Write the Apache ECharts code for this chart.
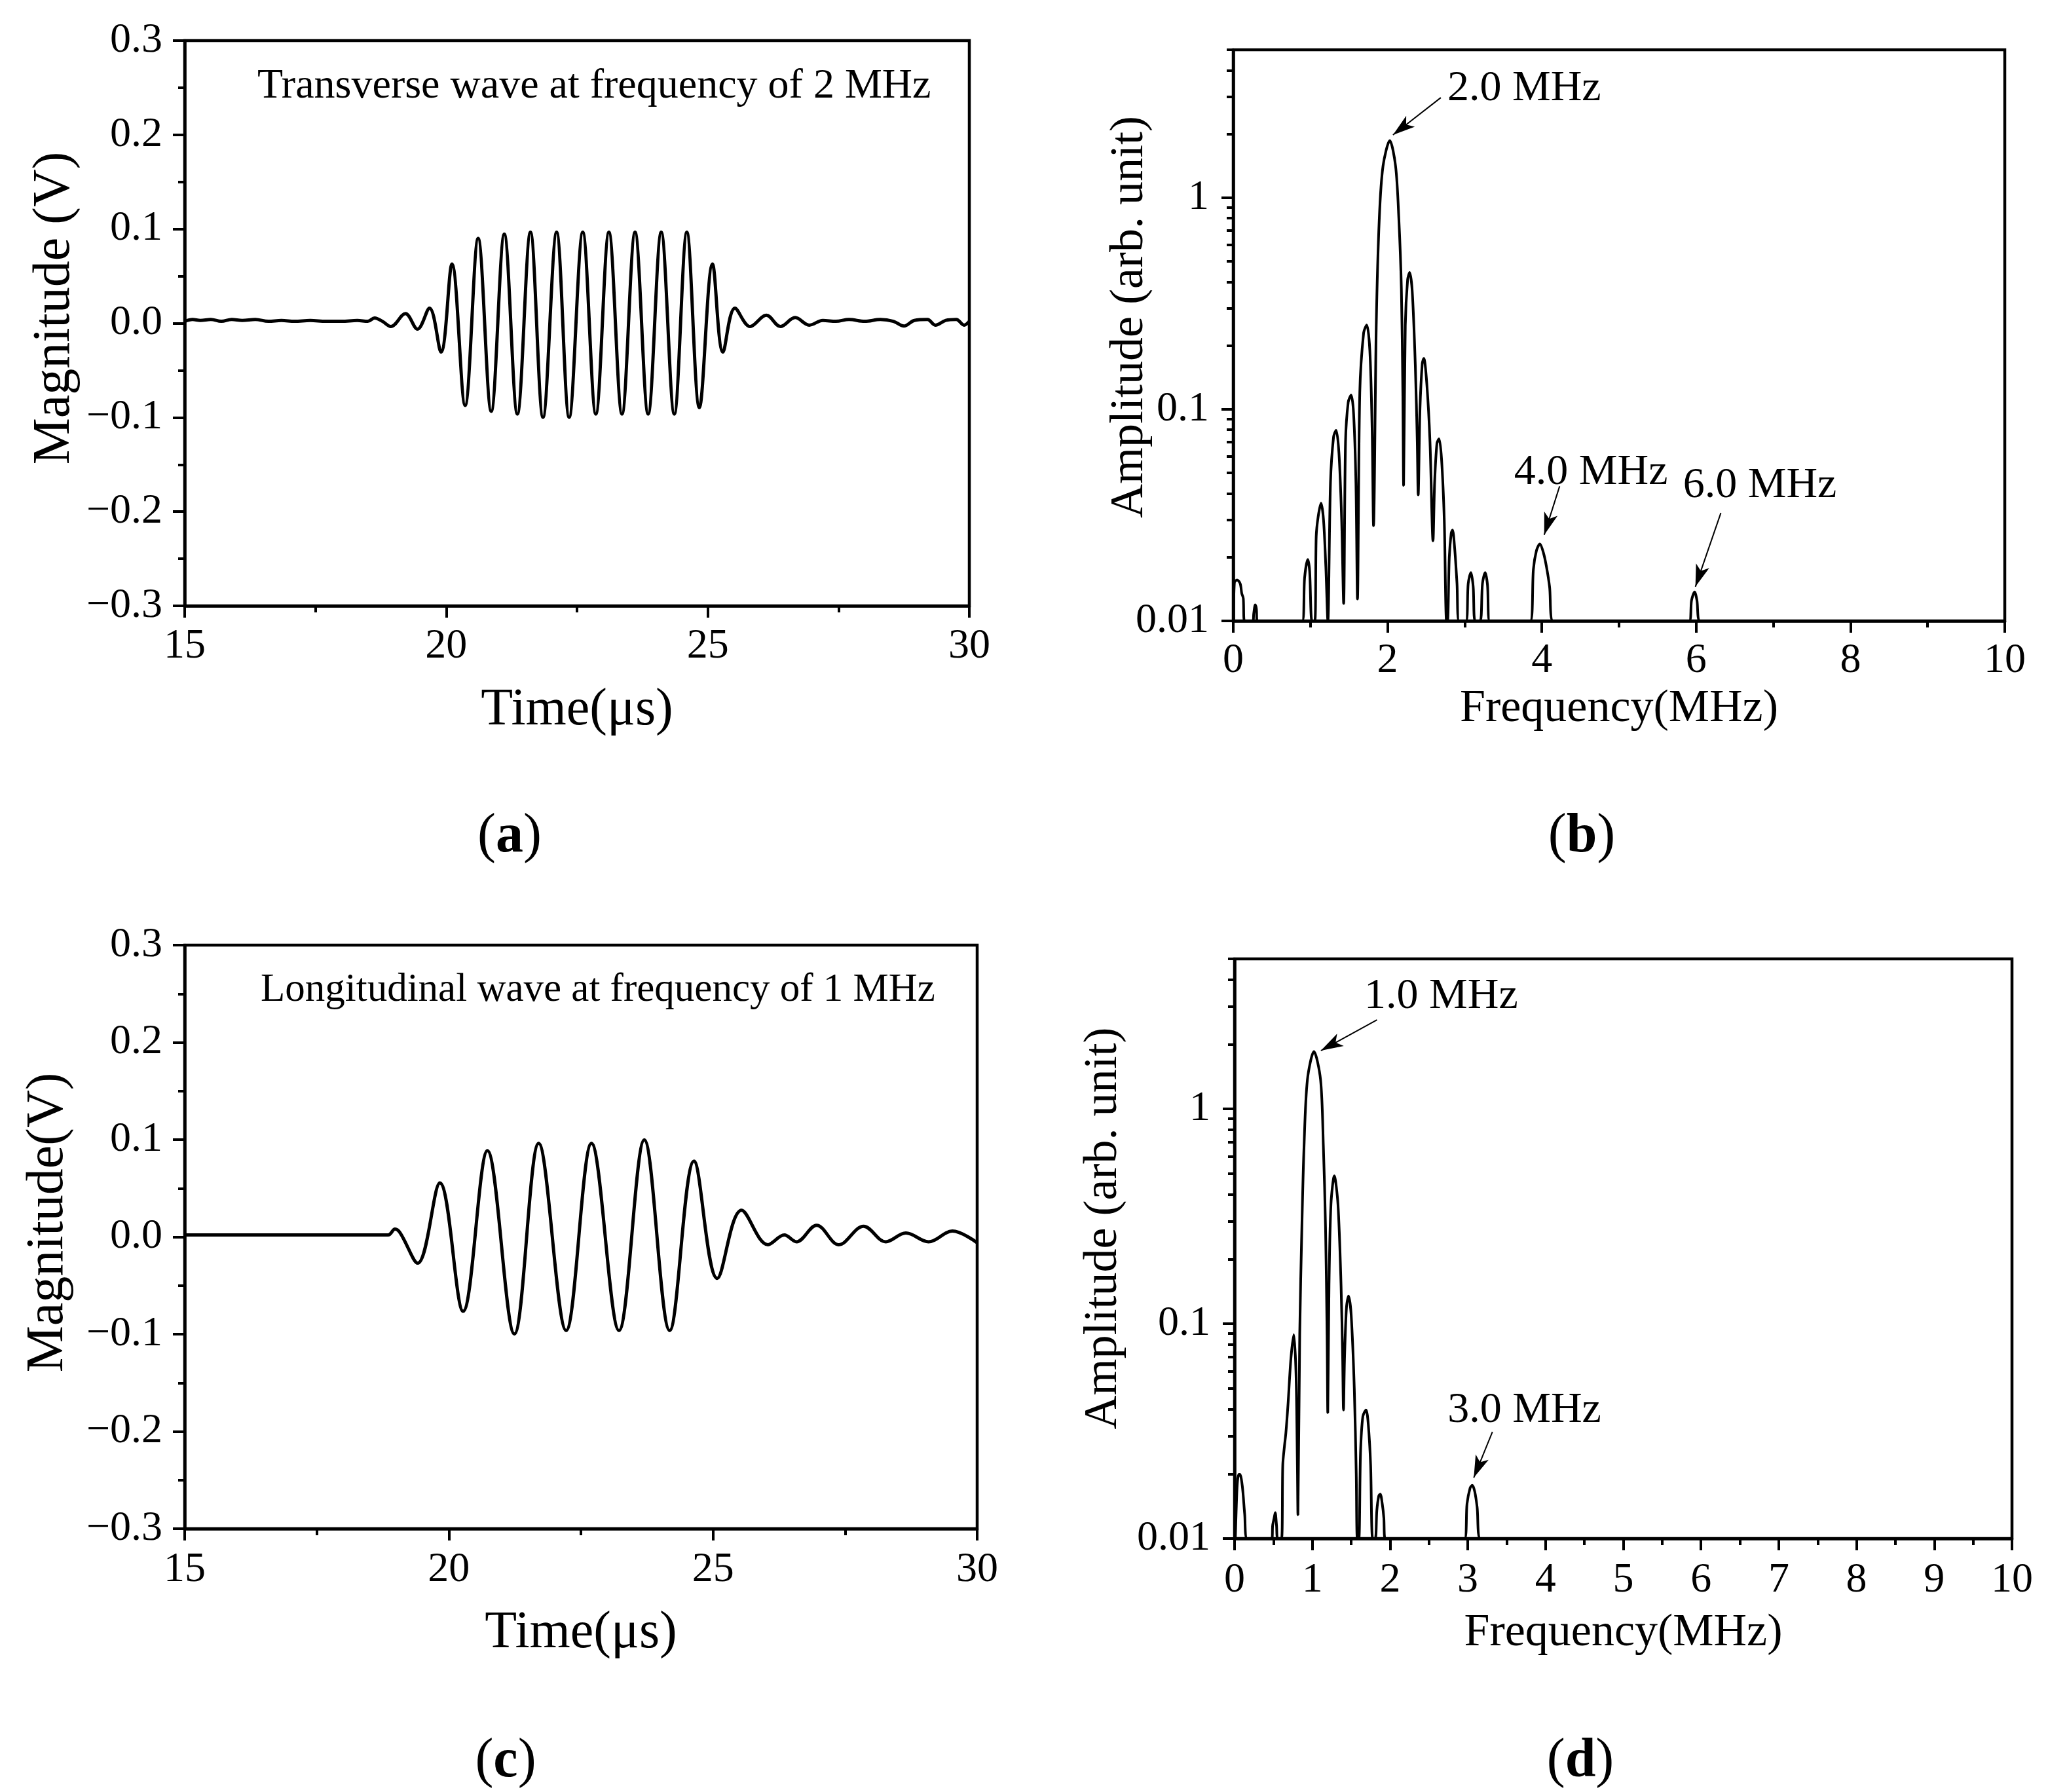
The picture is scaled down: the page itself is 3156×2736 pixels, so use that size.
<!DOCTYPE html>
<html>
<head>
<meta charset="utf-8">
<script src="https://cdn.jsdelivr.net/npm/echarts@6/dist/echarts.min.js"></script>
<style>
html, body { margin: 0; padding: 0; background: #fff; }
#main { width: 3156px; height: 2736px; }
</style>
</head>
<body>
<div id="main"></div>
<script>
// (a) transverse wave, time (us) vs magnitude (V)
const waveA = [
  [15.0, 0.002], [15.15, 0.004], [15.3, 0.003], [15.5, 0.004], [15.7, 0.002], [15.9, 0.004],
  [16.1, 0.003], [16.35, 0.004], [16.6, 0.002], [16.85, 0.003], [17.1, 0.002], [17.4, 0.003],
  [17.7, 0.002], [18.0, 0.002], [18.3, 0.003], [18.5, 0.002], [18.63, 0.0056], [18.78, 0.002],
  [18.94, -0.0035], [19.22, 0.0102], [19.45, -0.0063], [19.68, 0.016], [19.90, -0.0306],
  [20.11, 0.063], [20.36, -0.0873], [20.61, 0.090], [20.86, -0.0935], [21.11, 0.0945],
  [21.36, -0.0964], [21.61, 0.0966], [21.85, -0.0999], [22.11, 0.0966], [22.35, -0.0999],
  [22.61, 0.0966], [22.86, -0.0964], [23.11, 0.0966], [23.36, -0.0964], [23.61, 0.0966],
  [23.86, -0.0964], [24.11, 0.0966], [24.36, -0.0964], [24.60, 0.0966], [24.84, -0.0896],
  [25.09, 0.063], [25.29, -0.0306], [25.52, 0.016], [25.81, -0.0035], [26.12, 0.0085],
  [26.39, -0.0035], [26.67, 0.006], [26.94, -0.002], [27.2, 0.003], [27.45, 0.002], [27.7, 0.004],
  [28.0, 0.002], [28.3, 0.004], [28.55, 0.002], [28.75, -0.003], [28.95, 0.003], [29.2, 0.004],
  [29.35, -0.002], [29.55, 0.003], [29.75, 0.004], [29.9, -0.002], [30.0, 0.002]
]

// (c) longitudinal wave
const waveC = [
  [15.0, 0.002], [16.0, 0.002], [17.0, 0.002], [18.0, 0.002], [18.85, 0.002], [18.98, 0.008],
  [19.08, 0.004], [19.41, -0.027], [19.83, 0.0555], [20.27, -0.0765], [20.73, 0.0887],
  [21.24, -0.0998], [21.70, 0.0963], [22.22, -0.0963], [22.70, 0.0963], [23.22, -0.0963],
  [23.70, 0.0998], [24.18, -0.0963], [24.64, 0.078], [25.08, -0.0426], [25.54, 0.0274],
  [26.04, -0.008], [26.35, 0.002], [26.58, -0.005], [26.96, 0.012], [27.38, -0.008],
  [27.85, 0.011], [28.27, -0.005], [28.65, 0.004], [29.08, -0.005], [29.53, 0.006], [30.0, -0.006]
]

// (b) spectrum of (a), frequency (MHz) vs amplitude
const specB = [
  [0.005, 0.01], [0.015, 0.0152], [0.05, 0.0156], [0.09, 0.0150], [0.11, 0.0135], [0.13, 0.0128], [0.145, 0.01],
  [0.255, 0.01], [0.265, 0.0108], [0.285, 0.0119], [0.30, 0.0114], [0.31, 0.01],
  [0.894, 0.01], [0.925, 0.0160], [0.966, 0.0195], [0.99, 0.0172], [1.02, 0.01],
  [1.057, 0.01], [1.075, 0.025], [1.10, 0.031], [1.138, 0.036], [1.17, 0.030], [1.20, 0.018], [1.226, 0.01],
  [1.26, 0.045], [1.30, 0.074], [1.333, 0.0796], [1.37, 0.062], [1.405, 0.030], [1.431, 0.0121],
  [1.455, 0.07], [1.49, 0.108], [1.528, 0.1167], [1.56, 0.095], [1.59, 0.045], [1.61, 0.0127],
  [1.64, 0.12], [1.69, 0.23], [1.73, 0.25], [1.77, 0.19], [1.80, 0.08], [1.818, 0.0282],
  [1.854, 0.255], [1.893, 0.80], [1.941, 1.41], [2.029, 1.86], [2.104, 1.41], [2.146, 0.80],
  [2.179, 0.372], [2.198, 0.119], [2.208, 0.0437],
  [2.23, 0.25], [2.26, 0.41], [2.286, 0.443], [2.32, 0.36], [2.36, 0.16], [2.385, 0.07], [2.397, 0.0394],
  [2.42, 0.10], [2.45, 0.165], [2.47, 0.174], [2.51, 0.13], [2.55, 0.07], [2.589, 0.0239],
  [2.61, 0.045], [2.64, 0.069], [2.667, 0.0725], [2.70, 0.058], [2.735, 0.03], [2.764, 0.01],
  [2.777, 0.01], [2.80, 0.020], [2.825, 0.026], [2.842, 0.0269], [2.87, 0.022], [2.90, 0.015], [2.927, 0.01],
  [3.015, 0.01], [3.045, 0.0150], [3.08, 0.0169], [3.11, 0.0145], [3.135, 0.01],
  [3.20, 0.01], [3.23, 0.0150], [3.265, 0.0169], [3.295, 0.0148], [3.324, 0.01],
  [3.85, 0.01], [3.89, 0.0175], [3.93, 0.0215], [3.974, 0.0231], [4.02, 0.021], [4.06, 0.018], [4.10, 0.0145], [4.143, 0.01],
  [5.91, 0.01], [5.94, 0.0125], [5.98, 0.0137], [6.01, 0.0125], [6.05, 0.01],
  [10.0, 0.01]
]

// (d) spectrum of (c)
const specD = [
  [0.01, 0.01], [0.02, 0.0132], [0.035, 0.018], [0.055, 0.0199], [0.069, 0.0199], [0.10, 0.0175], [0.13, 0.013], [0.162, 0.01],
  [0.48, 0.01], [0.49, 0.0115], [0.51, 0.0125], [0.523, 0.0132], [0.54, 0.0115], [0.555, 0.01],
  [0.604, 0.01], [0.62, 0.022], [0.641, 0.0268], [0.66, 0.031], [0.689, 0.043], [0.725, 0.069],
  [0.762, 0.089], [0.79, 0.059], [0.808, 0.022], [0.815, 0.0129],
  [0.838, 0.089], [0.866, 0.284], [0.894, 0.675], [0.937, 1.37], [1.021, 1.85], [1.106, 1.37],
  [1.142, 0.675], [1.17, 0.284], [1.19, 0.089], [1.199, 0.0386],
  [1.215, 0.15], [1.24, 0.36], [1.283, 0.488], [1.33, 0.36], [1.37, 0.15], [1.39, 0.07], [1.401, 0.0397],
  [1.415, 0.07], [1.44, 0.12], [1.466, 0.1346], [1.50, 0.11], [1.54, 0.05], [1.565, 0.02], [1.579, 0.01],
  [1.599, 0.01], [1.62, 0.025], [1.65, 0.037], [1.691, 0.0397], [1.72, 0.034], [1.75, 0.022], [1.776, 0.01],
  [1.81, 0.01], [1.83, 0.0135], [1.855, 0.0158], [1.874, 0.0161], [1.90, 0.0145], [1.92, 0.0125], [1.937, 0.01],
  [2.959, 0.01], [2.99, 0.0145], [3.03, 0.0172], [3.058, 0.0177], [3.09, 0.0165], [3.12, 0.0140], [3.162, 0.01],
  [10.0, 0.01]
]

// peak annotations: [text, freq, amp] and arrows [fromF, fromA, toF, toA]
const notesB = [['2.0 MHz', 2.776, 3.27], ['4.0 MHz', 3.64, 0.0501], ['6.0 MHz', 5.83, 0.0434]]
const arrowsB = [[2.69, 2.97, 2.07, 1.98], [4.23, 0.0433, 4.03, 0.0255], [6.32, 0.0324, 5.99, 0.0145]]
const notesD = [['1.0 MHz', 1.669, 3.33], ['3.0 MHz', 2.74, 0.0394]]
const arrowsD = [[1.832, 2.60, 1.111, 1.87], [3.317, 0.0314, 3.077, 0.0192]]

// minor ticks of the log axes (multiples inside each decade)
const logMinor = [0.02, 0.03, 0.04, 0.05, 0.06, 0.07, 0.08, 0.09, 0.2, 0.3, 0.4, 0.5, 0.6, 0.7, 0.8, 0.9, 2, 3, 4, 5]

const FONT = '"Liberation Serif", "Times New Roman", serif'
const BLACK = '#000'

const chart = echarts.init(document.getElementById('main'))

function txt (size, extra) {
  return Object.assign({ fontFamily: FONT, fontSize: size, color: BLACK }, extra || {})
}

// common value axis (bottom or left)
function valAxis (grid, min, max, interval, name, nameSize, nameGap, margin, fmt, pad) {
  return {
    type: 'value',
    gridIndex: grid,
    min: min,
    max: max,
    interval: interval,
    name: name,
    nameLocation: 'middle',
    nameGap: nameGap,
    nameMoveOverlap: false,
    nameTextStyle: txt(nameSize, pad ? { padding: pad } : {}),
    axisLine: { onZero: false, lineStyle: { color: BLACK, width: 4.5 } },
    axisTick: { inside: false, length: 18, lineStyle: { color: BLACK, width: 4 } },
    minorTick: { show: true, splitNumber: 2, length: 10, lineStyle: { color: BLACK, width: 4 } },
    axisLabel: txt(64, { margin: margin, formatter: fmt }),
    splitLine: { show: false },
    minorSplitLine: { show: false }
  }
}

function logAxis (grid, name, nameGap, pad) {
  return {
    type: 'log',
    logBase: 10,
    gridIndex: grid,
    min: 0.01,
    max: 5,
    name: name,
    nameLocation: 'middle',
    nameGap: nameGap,
    nameMoveOverlap: false,
    nameTextStyle: txt(72, { padding: pad }),
    axisLine: { onZero: false, lineStyle: { color: BLACK, width: 4.5 } },
    axisTick: { inside: false, length: 18, lineStyle: { color: BLACK, width: 4 } },
    axisLabel: txt(64, {
      margin: 37,
      showMaxLabel: false,
      formatter: v => String(parseFloat(Number(v).toPrecision(6)))
    }),
    splitLine: { show: false }
  }
}

// overlay axis that only draws the log minor ticks
function logMinorAxis (grid) {
  return {
    type: 'value',
    gridIndex: grid,
    position: 'left',
    min: -2,
    max: Math.log10(5),
    axisLine: { show: false },
    axisLabel: { show: false },
    splitLine: { show: false },
    axisTick: {
      show: true,
      inside: false,
      length: 10,
      customValues: logMinor.map(v => Math.log10(v)),
      lineStyle: { color: BLACK, width: 4 }
    }
  }
}

const fmt1 = v => v.toFixed(1).replace('-', '\u2212')
const fmtInt = v => String(v)

function frame (left, top, width, height) {
  return {
    left: left, top: top, width: width, height: height,
    show: true, borderColor: BLACK, borderWidth: 4.5,
    backgroundColor: 'transparent',
    containLabel: false,
    outerBoundsMode: 'none'
  }
}

function waveSeries (grid, data) {
  return {
    type: 'line',
    xAxisIndex: grid,
    yAxisIndex: grid,
    data: data,
    showSymbol: false,
    smooth: 0.36,
    clip: true,
    silent: true,
    lineStyle: { color: BLACK, width: 5 }
  }
}

function specSeries (grid, yIdx, data, notes, arrows) {
  return {
    type: 'line',
    xAxisIndex: grid,
    yAxisIndex: yIdx,
    data: data,
    showSymbol: false,
    smooth: 0.3,
    clip: true,
    silent: true,
    lineStyle: { color: BLACK, width: 4 },
    markLine: {
      silent: true,
      animation: false,
      symbol: ['none', 'arrow'],
      symbolSize: [16, 34],
      label: { show: false },
      lineStyle: { color: BLACK, width: 2, type: 'solid' },
      data: arrows.map(a => [{ coord: [a[0], a[1]] }, { coord: [a[2], a[3]] }])
    },
    markPoint: {
      silent: true,
      animation: false,
      symbol: 'circle',
      symbolSize: 0,
      label: txt(66, { show: true, position: 'right', distance: 0, formatter: '{b}' }),
      data: notes.map(n => ({ name: n[0], coord: [n[1], n[2]] }))
    }
  }
}

function panelLabel (letter, x, y) {
  return {
    type: 'text',
    x: x,
    y: y,
    style: {
      text: '{n|(}{b|' + letter + '}{n|)}',
      align: 'center',
      verticalAlign: 'middle',
      rich: {
        n: { fontFamily: FONT, fontSize: 84, color: BLACK },
        b: { fontFamily: FONT, fontSize: 84, fontWeight: 'bold', color: BLACK }
      }
    }
  }
}

function note (text, x, y, size) {
  return {
    type: 'text',
    x: x,
    y: y,
    style: {
      text: text,
      font: size + 'px ' + FONT,
      fill: BLACK,
      align: 'left',
      verticalAlign: 'middle'
    }
  }
}

const option = {
  backgroundColor: '#fff',
  animation: false,
  grid: [
    frame(282, 62, 1198, 863),
    frame(1883, 76, 1178, 872),
    frame(282, 1443, 1210, 891),
    frame(1885, 1464, 1187, 885)
  ],
  xAxis: [
    valAxis(0, 15, 30, 5, 'Time(\u03bcs)', 80, 120, 30, fmtInt),
    valAxis(1, 0, 10, 2, 'Frequency(MHz)', 70, 100, 29, fmtInt),
    valAxis(2, 15, 30, 5, 'Time(\u03bcs)', 80, 120, 31, fmtInt),
    valAxis(3, 0, 10, 1, 'Frequency(MHz)', 70, 110, 32, fmtInt)
  ],
  yAxis: [
    valAxis(0, -0.3, 0.3, 0.1, 'Magnitude (V)', 80, 158, 34, fmt1, [0, 0, 0, 46]),
    logAxis(1, 'Amplitude (arb. unit)', 122, [0, 0, 0, 56]),
    valAxis(2, -0.3, 0.3, 0.1, 'Magnitude(V)', 80, 168, 34, fmt1, [0, 0, 0, 44]),
    logAxis(3, 'Amplitude (arb. unit)', 164, [0, 0, 0, 62]),
    logMinorAxis(1),
    logMinorAxis(3)
  ],
  series: [
    waveSeries(0, waveA),
    specSeries(1, 1, specB, notesB, arrowsB),
    waveSeries(2, waveC),
    specSeries(3, 3, specD, notesD, arrowsD)
  ],
  graphic: [
    note('Transverse wave at frequency of 2 MHz', 393, 132, 64),
    note('Longitudinal wave at frequency of 1 MHz', 398, 1512, 61),
    panelLabel('a', 778, 1278),
    panelLabel('b', 2415, 1278),
    panelLabel('c', 772, 2690),
    panelLabel('d', 2413, 2690)
  ]
}

chart.setOption(option)
window.addEventListener('resize', () => {
  chart.resize()
})
</script>
</body>
</html>
